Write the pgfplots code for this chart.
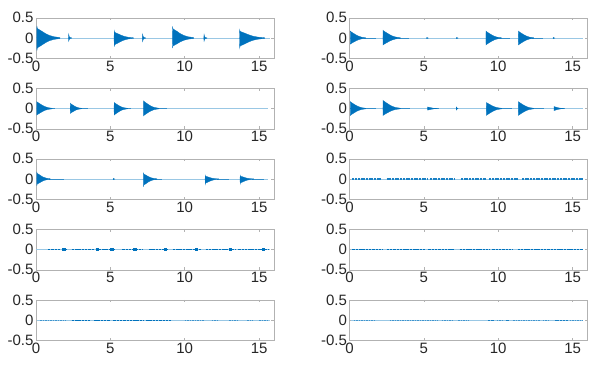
\documentclass[border=0pt]{standalone}
\usepackage{pgfplots}
\pgfplotsset{compat=1.18}
\usepackage{fontspec}
\setmainfont{Liberation Sans}
\definecolor{mblue}{RGB}{0,114,189}
\pgfplotsset{
  panel/.style={
    width=238pt, height=40.5pt, scale only axis,
    xmin=0, xmax=16, ymin=-0.5, ymax=0.5,
    xtick={0,5,10,15}, ytick={-0.5,0,0.5},
    tick align=inside, major tick length=2.5pt,
    axis line style={draw=black!30, line width=0.5pt},
    tick style={black!30, line width=0.5pt},
    ticklabel style={font=\fontsize{15}{17}\selectfont, text=black!85},
    xticklabel style={yshift=1pt},
    yticklabel style={xshift=1pt},
    /pgf/number format/assume math mode=true,
    unbounded coords=jump,
    anchor=south west, clip=true,
  },
  burst/.style={fill=mblue, draw=mblue, line width=0.3pt},
  tail/.style={mblue!80, line width=0.9pt},
  base/.style={mblue!40, line width=0.45pt},
  noise/.style={mblue!90, line width=1.1pt, dash pattern=on 2pt off 0.7pt},
  noisethin/.style={mblue, line width=1.0pt, dash pattern=on 2.5pt off 0.8pt},
  faint/.style={mblue!75, line width=0.8pt, dash pattern=on 1.5pt off 1pt},
  blob/.style={mblue, line width=2.2pt},
}
\begin{document}
\begin{tikzpicture}
\useasboundingbox (0,0) rectangle (598pt,367pt);
% ---------------- row 1 left
\begin{axis}[panel, at={(36pt,308.7pt)}]
\addplot[base] coordinates {(0,0) (15.7,0)};
\addplot[burst] coordinates {(0.05,0)(0.062,0.30)(0.086,0.24)(0.146,0.222)(0.29,0.192)(0.47,0.15)(0.65,0.108)(0.89,0.066)(1.19,0.033)(1.61,0.012)(1.61,-0.012)(1.19,-0.034)(0.89,-0.068)(0.65,-0.112)(0.47,-0.155)(0.29,-0.198)(0.146,-0.229)(0.086,-0.248)(0.062,-0.31)(0.05,0)};
\addplot[burst] coordinates {(2.18,0)(2.2,0.10)(2.23,0.04)(2.3,0.012)(2.4,0.004)(2.4,-0.004)(2.3,-0.01)(2.23,-0.035)(2.2,-0.08)(2.18,0)};
\addplot[burst] coordinates {(5.25,0)(5.26,0.18)(5.28,0.144)(5.33,0.133)(5.45,0.115)(5.6,0.09)(5.75,0.065)(5.95,0.04)(6.2,0.02)(6.55,0.007)(6.55,-0.008)(6.2,-0.023)(5.95,-0.046)(5.75,-0.076)(5.6,-0.105)(5.45,-0.134)(5.33,-0.155)(5.28,-0.168)(5.26,-0.21)(5.25,0)};
\addplot[burst] coordinates {(7.15,0)(7.17,0.10)(7.2,0.04)(7.27,0.012)(7.37,0.004)(7.37,-0.004)(7.27,-0.011)(7.2,-0.037)(7.17,-0.09)(7.15,0)};
\addplot[burst] coordinates {(9.17,0)(9.181,0.29)(9.203,0.232)(9.258,0.215)(9.39,0.186)(9.555,0.145)(9.72,0.104)(9.94,0.064)(10.215,0.032)(10.6,0.012)(10.6,-0.01)(10.215,-0.028)(9.94,-0.055)(9.72,-0.09)(9.555,-0.125)(9.39,-0.16)(9.258,-0.185)(9.203,-0.2)(9.181,-0.25)(9.17,0)};
\addplot[burst] coordinates {(11.28,0)(11.3,0.09)(11.33,0.036)(11.4,0.011)(11.5,0.004)(11.5,-0.004)(11.4,-0.01)(11.33,-0.032)(11.3,-0.08)(11.28,0)};
\addplot[burst] coordinates {(13.68,0)(13.693,0.21)(13.719,0.168)(13.784,0.155)(13.94,0.134)(14.135,0.105)(14.33,0.076)(14.59,0.046)(14.915,0.023)(15.37,0.008)(15.37,-0.01)(14.915,-0.028)(14.59,-0.055)(14.33,-0.09)(14.135,-0.125)(13.94,-0.16)(13.784,-0.185)(13.719,-0.2)(13.693,-0.25)(13.68,0)};
\end{axis}
% ---------------- row 1 right
\begin{axis}[panel, at={(349.5pt,308.7pt)}]
\addplot[base] coordinates {(0,0) (15.73,0)};
\addplot[tail] coordinates {(1.0,0)(1.75,0)(1.8,nan)(3.3,0)(4.0,0)(4.1,nan)(10.1,0)(10.8,0)(10.9,nan)(12.3,0)(13.0,0)};
\addplot[burst] coordinates {(0.05,0)(0.058,0.17)(0.074,0.162)(0.114,0.153)(0.21,0.129)(0.33,0.102)(0.45,0.075)(0.61,0.046)(0.81,0.022)(1.09,0.007)(1.09,-0.006)(0.81,-0.02)(0.61,-0.041)(0.45,-0.066)(0.33,-0.09)(0.21,-0.114)(0.114,-0.135)(0.074,-0.143)(0.058,-0.15)(0.05,0)};
\addplot[burst] coordinates {(2.25,0)(2.259,0.19)(2.277,0.181)(2.322,0.171)(2.43,0.144)(2.565,0.114)(2.7,0.084)(2.88,0.051)(3.105,0.025)(3.42,0.008)(3.42,-0.007)(3.105,-0.022)(2.88,-0.046)(2.7,-0.075)(2.565,-0.102)(2.43,-0.129)(2.322,-0.153)(2.277,-0.162)(2.259,-0.17)(2.25,0)};
\addplot[burst] coordinates {(5.18,0)(5.2,0.015)(5.26,0.005)(5.3,0)(5.26,-0.005)(5.2,-0.015)(5.18,0)};
\addplot[burst] coordinates {(7.18,0)(7.2,0.015)(7.26,0.005)(7.3,0)(7.26,-0.005)(7.2,-0.015)(7.18,0)};
\addplot[burst] coordinates {(9.17,0)(9.178,0.17)(9.194,0.162)(9.234,0.153)(9.33,0.129)(9.45,0.102)(9.57,0.075)(9.73,0.046)(9.93,0.022)(10.21,0.007)(10.21,-0.007)(9.93,-0.022)(9.73,-0.046)(9.57,-0.075)(9.45,-0.102)(9.33,-0.129)(9.234,-0.153)(9.194,-0.162)(9.178,-0.17)(9.17,0)};
\addplot[burst] coordinates {(11.35,0)(11.358,0.17)(11.374,0.162)(11.414,0.153)(11.51,0.129)(11.63,0.102)(11.75,0.075)(11.91,0.046)(12.11,0.022)(12.39,0.007)(12.39,-0.007)(12.11,-0.022)(11.91,-0.046)(11.75,-0.075)(11.63,-0.102)(11.51,-0.129)(11.414,-0.153)(11.374,-0.162)(11.358,-0.17)(11.35,0)};
\addplot[burst] coordinates {(13.68,0)(13.7,0.015)(13.76,0.005)(13.8,0)(13.76,-0.005)(13.7,-0.015)(13.68,0)};
\end{axis}
% ---------------- row 2 left
\begin{axis}[panel, at={(36pt,238.2pt)}]
\addplot[base] coordinates {(0,0) (15.6,0)};
\addplot[tail] coordinates {(0.9,0)(1.3,0)(1.4,nan)(3.0,0)(3.5,0)(3.6,nan)(6.1,0)(6.4,0)(6.5,nan)(8.2,0)(8.8,0)};
\addplot[burst] coordinates {(0.05,0)(0.058,0.17)(0.074,0.162)(0.114,0.153)(0.21,0.129)(0.33,0.102)(0.45,0.075)(0.61,0.046)(0.81,0.022)(1.09,0.007)(1.09,-0.006)(0.81,-0.021)(0.61,-0.043)(0.45,-0.07)(0.33,-0.096)(0.21,-0.122)(0.114,-0.144)(0.074,-0.152)(0.058,-0.16)(0.05,0)};
\addplot[burst] coordinates {(2.3,0)(2.306,0.13)(2.318,0.124)(2.348,0.117)(2.42,0.099)(2.51,0.078)(2.6,0.057)(2.72,0.035)(2.87,0.017)(3.08,0.005)(3.08,-0.005)(2.87,-0.016)(2.72,-0.032)(2.6,-0.053)(2.51,-0.072)(2.42,-0.091)(2.348,-0.108)(2.318,-0.114)(2.306,-0.12)(2.3,0)};
\addplot[burst] coordinates {(5.25,0)(5.257,0.15)(5.271,0.143)(5.306,0.135)(5.39,0.114)(5.495,0.09)(5.6,0.066)(5.74,0.041)(5.915,0.02)(6.16,0.006)(6.16,-0.006)(5.915,-0.021)(5.74,-0.043)(5.6,-0.07)(5.495,-0.096)(5.39,-0.122)(5.306,-0.144)(5.271,-0.152)(5.257,-0.16)(5.25,0)};
\addplot[burst] coordinates {(7.22,0)(7.228,0.19)(7.244,0.181)(7.284,0.171)(7.38,0.144)(7.5,0.114)(7.62,0.084)(7.78,0.051)(7.98,0.025)(8.26,0.008)(8.26,-0.007)(7.98,-0.023)(7.78,-0.049)(7.62,-0.079)(7.5,-0.108)(7.38,-0.137)(7.284,-0.162)(7.244,-0.171)(7.228,-0.18)(7.22,0)};
\end{axis}
% ---------------- row 2 right
\begin{axis}[panel, at={(349.5pt,238.2pt)}]
\addplot[base] coordinates {(0,0) (15.73,0)};
\addplot[tail] coordinates {(1.0,0)(1.8,0)(1.85,nan)(3.3,0)(4.1,0)(4.2,nan)(5.8,0)(6.0,0)(6.1,nan)(10.1,0)(10.9,0)(11.0,nan)(12.3,0)(13.1,0)(13.2,nan)(14.3,0)(14.5,0)};
\addplot[burst] coordinates {(0.05,0)(0.058,0.17)(0.074,0.162)(0.114,0.153)(0.21,0.129)(0.33,0.102)(0.45,0.075)(0.61,0.046)(0.81,0.022)(1.09,0.007)(1.09,-0.007)(0.81,-0.022)(0.61,-0.046)(0.45,-0.075)(0.33,-0.102)(0.21,-0.129)(0.114,-0.153)(0.074,-0.162)(0.058,-0.17)(0.05,0)};
\addplot[burst] coordinates {(2.25,0)(2.259,0.20)(2.277,0.19)(2.322,0.18)(2.43,0.152)(2.565,0.12)(2.7,0.088)(2.88,0.054)(3.105,0.026)(3.42,0.008)(3.42,-0.007)(3.105,-0.022)(2.88,-0.046)(2.7,-0.075)(2.565,-0.102)(2.43,-0.129)(2.322,-0.153)(2.277,-0.162)(2.259,-0.17)(2.25,0)};
\addplot[burst] coordinates {(5.25,0)(5.255,0.04)(5.265,0.038)(5.29,0.036)(5.35,0.03)(5.425,0.024)(5.5,0.018)(5.6,0.011)(5.725,0.005)(5.9,0.002)(5.9,-0.002)(5.725,-0.005)(5.6,-0.011)(5.5,-0.018)(5.425,-0.024)(5.35,-0.03)(5.29,-0.036)(5.265,-0.038)(5.255,-0.04)(5.25,0)};
\addplot[burst] coordinates {(7.17,0)(7.19,0.04)(7.23,0.012)(7.3,0.003)(7.3,-0.003)(7.23,-0.012)(7.19,-0.04)(7.17,0)};
\addplot[burst] coordinates {(9.2,0)(9.208,0.15)(9.224,0.143)(9.264,0.135)(9.36,0.114)(9.48,0.09)(9.6,0.066)(9.76,0.041)(9.96,0.02)(10.24,0.006)(10.24,-0.007)(9.96,-0.022)(9.76,-0.046)(9.6,-0.075)(9.48,-0.102)(9.36,-0.129)(9.264,-0.153)(9.224,-0.162)(9.208,-0.17)(9.2,0)};
\addplot[burst] coordinates {(11.35,0)(11.358,0.17)(11.374,0.162)(11.414,0.153)(11.51,0.129)(11.63,0.102)(11.75,0.075)(11.91,0.046)(12.11,0.022)(12.39,0.007)(12.39,-0.007)(12.11,-0.022)(11.91,-0.046)(11.75,-0.075)(11.63,-0.102)(11.51,-0.129)(11.414,-0.153)(11.374,-0.162)(11.358,-0.17)(11.35,0)};
\addplot[burst] coordinates {(13.75,0)(13.755,0.05)(13.765,0.048)(13.79,0.045)(13.85,0.038)(13.925,0.03)(14.0,0.022)(14.1,0.014)(14.225,0.007)(14.4,0.002)(14.4,-0.002)(14.225,-0.007)(14.1,-0.014)(14.0,-0.022)(13.925,-0.03)(13.85,-0.038)(13.79,-0.045)(13.765,-0.048)(13.755,-0.05)(13.75,0)};
\end{axis}
% ---------------- row 3 left
\begin{axis}[panel, at={(36pt,167.7pt)}]
\addplot[base] coordinates {(0,0) (15.6,0)};
\addplot[tail] coordinates {(0.9,0)(1.85,0)(1.9,nan)(8.0,0)(8.5,0)(8.6,nan)(12.2,0)(13.0,0)(13.1,nan)(14.5,0)(15.3,0)};
\addplot[burst] coordinates {(0.05,0)(0.057,0.18)(0.071,0.144)(0.106,0.133)(0.19,0.115)(0.295,0.09)(0.4,0.065)(0.54,0.04)(0.715,0.02)(0.96,0.007)(0.96,-0.006)(0.715,-0.018)(0.54,-0.035)(0.4,-0.058)(0.295,-0.08)(0.19,-0.102)(0.106,-0.118)(0.071,-0.128)(0.057,-0.16)(0.05,0)};
\addplot[burst] coordinates {(5.18,0)(5.2,0.015)(5.26,0.005)(5.3,0)(5.26,-0.005)(5.2,-0.015)(5.18,0)};
\addplot[burst] coordinates {(7.22,0)(7.227,0.16)(7.241,0.128)(7.276,0.118)(7.36,0.102)(7.465,0.08)(7.57,0.058)(7.71,0.035)(7.885,0.018)(8.13,0.006)(8.13,-0.008)(7.885,-0.021)(7.71,-0.042)(7.57,-0.068)(7.465,-0.095)(7.36,-0.122)(7.276,-0.141)(7.241,-0.152)(7.227,-0.19)(7.22,0)};
\addplot[burst] coordinates {(11.37,0)(11.377,0.09)(11.391,0.072)(11.426,0.067)(11.51,0.058)(11.615,0.045)(11.72,0.032)(11.86,0.02)(12.035,0.01)(12.28,0.004)(12.28,-0.005)(12.035,-0.014)(11.86,-0.029)(11.72,-0.047)(11.615,-0.065)(11.51,-0.083)(11.426,-0.096)(11.391,-0.104)(11.377,-0.13)(11.37,0)};
\addplot[burst] coordinates {(13.72,0)(13.727,0.09)(13.741,0.072)(13.776,0.067)(13.86,0.058)(13.965,0.045)(14.07,0.032)(14.21,0.02)(14.385,0.01)(14.63,0.004)(14.63,-0.005)(14.385,-0.013)(14.21,-0.026)(14.07,-0.043)(13.965,-0.06)(13.86,-0.077)(13.776,-0.089)(13.741,-0.096)(13.727,-0.12)(13.72,0)};
\end{axis}
% ---------------- row 3 right
\begin{axis}[panel, at={(349.5pt,167.7pt)}]
\addplot[base] coordinates {(0.1,0) (15.73,0)};
\addplot[noise] coordinates {(0.2,0)(2.1,0)(2.3,nan)(2.5,0)(5.3,0)(5.35,nan)(5.4,0)(7.1,0)(7.3,nan)(7.5,0)(9.2,0)(9.3,nan)(9.4,0)(11.35,0)(11.5,nan)(11.6,0)(15.7,0)};
\end{axis}
% ---------------- row 4 left
\begin{axis}[panel, at={(36pt,97.2pt)}]
\addplot[base] coordinates {(0,0) (15.7,0)};
\addplot[noisethin] coordinates {(0.8,0)(1.6,0)(1.7,nan)(1.75,0)(2.1,0)(2.2,nan)(2.4,0)(3.9,0)(3.95,nan)(4.0,0)(5.3,0)(5.5,nan)(5.8,0)(7.2,0)(7.4,nan)(7.6,0)(8.9,0)(9.0,nan)(9.2,0)(11.1,0)(11.2,nan)(11.4,0)(13.4,0)(13.5,nan)(13.6,0)(15.6,0)};
\addplot[blob] coordinates {(1.75,0)(2.0,0)(2.05,nan)(4.0,0)(4.22,0)(4.25,nan)(5.0,0)(5.22,0)(5.25,nan)(6.55,0)(6.77,0)(6.8,nan)(8.6,0)(8.82,0)(8.85,nan)(10.7,0)(10.92,0)(10.95,nan)(12.95,0)(13.17,0)(13.2,nan)(15.2,0)(15.42,0)};
\end{axis}
% ---------------- row 4 right
\begin{axis}[panel, at={(349.5pt,97.2pt)}]
\addplot[base] coordinates {(0.1,0) (15.73,0)};
\addplot[noisethin] coordinates {(0.2,0)(2.2,0)(2.3,nan)(2.5,0)(5.1,0)(5.2,nan)(5.3,0)(7.0,0)(7.2,nan)(7.4,0)(9.4,0)(9.5,nan)(9.6,0)(11.0,0)(11.1,nan)(11.3,0)(15.7,0)};
\end{axis}
% ---------------- row 5 left
\begin{axis}[panel, at={(36pt,26.5pt)}]
\addplot[base] coordinates {(0.1,0) (15.7,0)};
\addplot[faint] coordinates {(0.3,0)(2.0,0)(2.1,nan)(10.0,0)(11.3,0)(11.4,nan)(11.8,0)(12.3,0)(12.4,nan)(13.0,0)(13.6,0)(13.7,nan)(14.2,0)(14.6,0)(14.7,nan)(15.0,0)(15.6,0)};
\addplot[noisethin] coordinates {(2.4,0)(3.6,0)(3.7,nan)(3.9,0)(5.0,0)(5.1,nan)(5.2,0)(7.2,0)(7.3,nan)(7.4,0)(9.1,0)};
\end{axis}
% ---------------- row 5 right
\begin{axis}[panel, at={(349.5pt,26.5pt)}]
\addplot[base] coordinates {(0.1,0) (15.73,0)};
\addplot[faint] coordinates {(0.3,0)(1.8,0)(1.9,nan)(2.7,0)(5.9,0)(6.0,nan)(6.2,0)(7.0,0)(7.1,nan)(7.3,0)(8.0,0)(8.1,nan)(9.9,0)(10.3,0)(10.4,nan)(11.0,0)(12.8,0)(12.9,nan)(13.0,0)(13.5,0)(13.6,nan)(14.8,0)(15.7,0)};
\addplot[noise] coordinates {(9.3,0)(9.7,0)(9.8,nan)(10.5,0)(10.7,0)(10.8,nan)(13.8,0)(14.7,0)};
\end{axis}
\end{tikzpicture}
\end{document}
